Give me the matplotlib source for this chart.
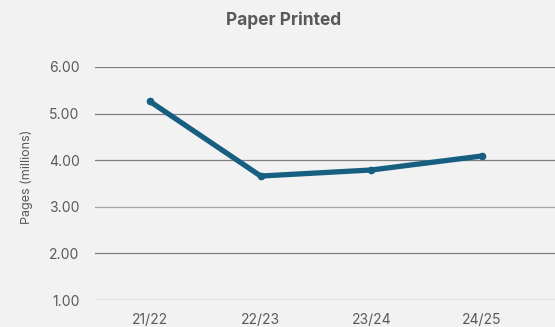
import matplotlib
matplotlib.use("Agg")
import matplotlib.pyplot as plt

years = ["21/22", "22/23", "23/24", "24/25"]
pages = [5.26, 3.66, 3.79, 4.09]
yticks = [1, 2, 3, 4, 5, 6]

plt.rcParams['font.family'] = ['Inter', 'DejaVu Sans']

fig = plt.figure(figsize=(5.55, 3.27), dpi=100, facecolor='#f2f2f2')
ax = fig.add_axes([95/555, 1 - 300/327, 1 - 95/555, (300 - 67)/327])
ax.set_facecolor('#f2f2f2')

x = list(range(len(years)))
ax.plot(x, pages, color='#175f80', lw=3.8, marker='o', ms=4.5,
        solid_capstyle='round', solid_joinstyle='round', zorder=3)

ax.set_xlim(-0.497, 3.66)
ax.set_ylim(1, 6)
ax.set_yticks(yticks)
ax.set_yticklabels([f"{v:.2f}" for v in yticks])
ax.set_xticks(x)
ax.set_xticklabels(years)

for v in yticks[1:]:
    col = '#a6a6a6' if v == 3 else '#7f7f7f'
    ax.axhline(v, color=col, lw=0.9, zorder=1)
ax.axhline(1, color='#d9d9d9', lw=1.2, zorder=1)

for s in ax.spines.values():
    s.set_visible(False)
ax.tick_params(length=0, colors='#595959', labelsize=10)
ax.tick_params(axis='y', pad=11)
ax.tick_params(axis='x', pad=9)

fig.text(27/555, 1 - 177/327, "Pages (millions)", rotation=90, ha='center', va='center',
         color='#595959', fontsize=9)
fig.text(284/555, 1 - 20/327, "Paper Printed", ha='center', va='center',
         color='#595959', fontsize=12.5, fontweight='bold')

fig.savefig("out.png", dpi=100, facecolor='#f2f2f2')
